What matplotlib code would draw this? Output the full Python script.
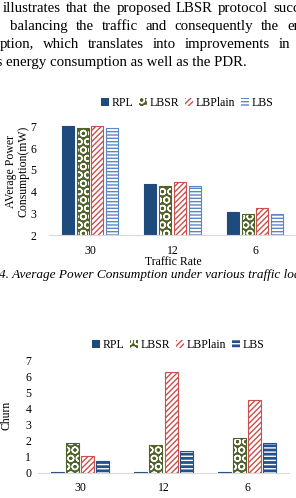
import matplotlib
matplotlib.use('Agg')
import matplotlib.pyplot as plt
from matplotlib.patches import Patch
import numpy as np

plt.rcParams['font.family'] = ['Liberation Serif', 'DejaVu Serif']
plt.rcParams['hatch.linewidth'] = 1.0

# data
rates = ['30', '12', '6']
series = ['RPL', 'LBSR', 'LBPlain', 'LBS']
power_rpl = [7.0, 4.35, 3.05]
power_lbsr = [6.95, 4.25, 2.95]
power_lbplain = [7.0, 4.45, 3.25]
power_lbs = [6.95, 4.25, 2.95]
churn_rpl = [0.05, 0.05, 0.05]
churn_lbsr = [1.83, 1.73, 2.15]
churn_lbplain = [1.03, 6.27, 4.57]
churn_lbs = [0.75, 1.37, 1.83]

# paragraph above the charts: words, x of first word, x of last (cut) word
para = [
    (['illustrates', 'that', 'the', 'proposed', 'LBSR', 'protocol', 'succeeds'], 3, 273),
    (['balancing', 'the', 'traffic', 'and', 'consequently', 'the', 'energy'], 10, 287),
    (['ption,', 'which', 'translates', 'into', 'improvements', 'in'], 0, 279),
]
last_line = 'energy consumption as well as the PDR.'
para_base = [12, 30, 48, 66]
caption = '4. Average Power Consumption under various traffic loads'

W, H = 296, 498
fig = plt.figure(figsize=(W / 100, H / 100), dpi=100)
renderer = fig.canvas.get_renderer()


def fx(x):
    return x / W


def fy(y):
    return 1 - y / H


def px_axes(left, top, right, bottom):
    return fig.add_axes([left / W, 1 - bottom / H, (right - left) / W, (bottom - top) / H])


def text_width(s, size):
    t = fig.text(0, 0, s, fontsize=size)
    w = t.get_window_extent(renderer).width
    t.remove()
    return w


# body text size so the last line spans about 6..247 px
body = 10 * 241 / text_width(last_line, 10)

for (words, x0, x_last), y in zip(para, para_base):
    widths = [text_width(w, body) for w in words[:-1]]
    gap = (x_last - x0 - sum(widths)) / len(widths)
    x = x0
    for w, wd in zip(words[:-1], widths):
        fig.text(fx(x), fy(y), w, ha='left', va='baseline', fontsize=body)
        x += wd + gap
    fig.text(fx(x_last), fy(y), words[-1], ha='left', va='baseline', fontsize=body)
fig.text(fx(6), fy(para_base[3]), last_line, ha='left', va='baseline', fontsize=body)
fig.text(fx(3), fy(para_base[3]), 'less', ha='right', va='baseline', fontsize=body)

navy = '#1F4A7C'
green = '#4F6228'
red = '#C9504D'
light_blue = '#5B86C2'
dark_blue = '#24508E'

# (face, hatch, hatch colour, edge)
sty1 = [
    (navy, None, navy, navy),
    (green, 'OO', 'white', green),
    ('white', '//////', red, red),
    ('white', '-----', light_blue, light_blue),
]
sty2 = [
    (navy, None, navy, navy),
    (green, 'OO', 'white', green),
    ('white', '//////', red, red),
    (dark_blue, '----', 'white', dark_blue),
]


def draw(ax, data, sty, width, step):
    x = np.arange(len(rates))
    for i, (vals, (face, hatch, hcol, edge)) in enumerate(zip(data, sty)):
        pos = x + (i - 1.5) * step
        ax.bar(pos, vals, width, color=face, edgecolor=hcol, hatch=hatch, lw=0)
        ax.bar(pos, vals, width, fill=False, edgecolor=edge, lw=0.8)
    ax.set_xticks(x)
    ax.set_xticklabels(rates)
    ax.set_xlim(-0.5, 2.5)
    for s in ['top', 'left', 'right']:
        ax.spines[s].set_visible(False)
    ax.spines['bottom'].set_color('#D9D9D9')
    ax.spines['bottom'].set_linewidth(0.8)


def legend(sty, cx, cy):
    handles = [Patch(facecolor=f, edgecolor=h, hatch=ht, lw=0) for f, ht, h, e in sty]
    fig.legend(handles, series, loc='center', bbox_to_anchor=(fx(cx), fy(cy)), ncol=4,
               frameon=False, fontsize=8.5, handlelength=0.7, handleheight=0.7,
               handletextpad=0.2, columnspacing=0.5, borderaxespad=0)


# top chart: power
ax1 = px_axes(48.75, 235 - 5.3 * 21.7, 296.25, 235)
draw(ax1, [power_rpl, power_lbsr, power_lbplain, power_lbs], sty1, 0.145, 0.18)
ax1.set_ylim(2, 7.3)
ax1.set_yticks(range(2, 8))
ax1.tick_params(length=0, labelsize=8.5)
ax1.tick_params(axis='y', pad=9)
ax1.tick_params(axis='x', pad=7)
legend(sty1, 187, 103)
fig.text(fx(17), fy(171), 'AVerage Power\nConsumption(mW)', rotation=90, ha='center',
         va='center', fontsize=8.5, linespacing=1.1)
fig.text(fx(173), fy(262), 'Traffic Rate', ha='center', va='center', fontsize=8.5)
fig.text(fx(-1), fy(275), caption, ha='left', va='center', fontsize=9.5, style='italic')

# bottom chart: churn
ax2 = px_axes(38.25, 472.7 - 7.3 * 16, 288.75, 472.7)
draw(ax2, [churn_rpl, churn_lbsr, churn_lbplain, churn_lbs], sty2, 0.156, 0.18)
ax2.set_ylim(0, 7.3)
ax2.set_yticks(range(0, 8))
ax2.tick_params(length=0, labelsize=8.5)
ax2.tick_params(axis='y', pad=5)
ax2.tick_params(axis='x', pad=7)
legend(sty2, 178, 345)
fig.text(fx(7), fy(415), 'Churn', rotation=90, ha='center', va='center', fontsize=8.5)

fig.savefig('out.png', dpi=100)
